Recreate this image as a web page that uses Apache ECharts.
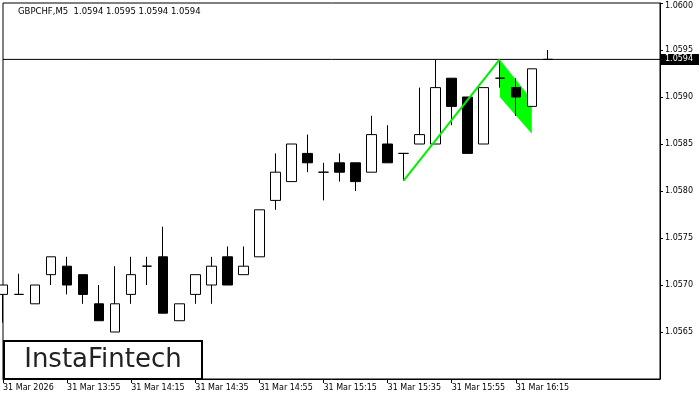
<!DOCTYPE html>
<html>
<head>
<meta charset="utf-8">
<script src="https://cdn.jsdelivr.net/npm/echarts@6/dist/echarts.min.js"></script>
<style>
  html, body { margin: 0; padding: 0; background: #fff; }
  #chart { width: 700px; height: 400px; }
</style>
</head>
<body>
<div id="chart"></div>
<script>
// GBPCHF M5, 31 Mar 2026
const times = ['13:35', '13:40', '13:45', '13:50', '13:55', '14:00', '14:05', '14:10', '14:15', '14:20',
  '14:25', '14:30', '14:35', '14:40', '14:45', '14:50', '14:55', '15:00', '15:05', '15:10',
  '15:15', '15:20', '15:25', '15:30', '15:35', '15:40', '15:45', '15:50', '15:55', '16:00',
  '16:05', '16:10', '16:15', '16:20', '16:25'];
const opens = [1.05690, 1.05690, 1.05680, 1.05711, 1.05720, 1.05711, 1.05680, 1.05650, 1.05690, 1.05720,
  1.05730, 1.05662, 1.05690, 1.05700, 1.05730, 1.05711, 1.05730, 1.05790, 1.05810, 1.05840,
  1.05820, 1.05830, 1.05830, 1.05820, 1.05850, 1.05840, 1.05850, 1.05850, 1.05920, 1.05900,
  1.05850, 1.05920, 1.05910, 1.05890, 1.05940];
const closes = [1.05700, 1.05690, 1.05700, 1.05730, 1.05700, 1.05690, 1.05662, 1.05680, 1.05711, 1.05720,
  1.05670, 1.05680, 1.05711, 1.05720, 1.05700, 1.05720, 1.05780, 1.05820, 1.05850, 1.05830,
  1.05820, 1.05820, 1.05810, 1.05860, 1.05830, 1.05840, 1.05860, 1.05910, 1.05890, 1.05840,
  1.05910, 1.05920, 1.05900, 1.05930, 1.05940];
const lows = [1.05660, 1.05690, 1.05680, 1.05700, 1.05690, 1.05680, 1.05662, 1.05650, 1.05680, 1.05700,
  1.05670, 1.05662, 1.05680, 1.05680, 1.05700, 1.05711, 1.05730, 1.05780, 1.05810, 1.05820,
  1.05790, 1.05810, 1.05800, 1.05820, 1.05830, 1.05811, 1.05850, 1.05850, 1.05870, 1.05840,
  1.05850, 1.05910, 1.05880, 1.05890, 1.05940];
const highs = [1.05700, 1.05712, 1.05700, 1.05730, 1.05730, 1.05711, 1.05700, 1.05720, 1.05730, 1.05730,
  1.05762, 1.05680, 1.05711, 1.05730, 1.05741, 1.05741, 1.05780, 1.05840, 1.05850, 1.05860,
  1.05830, 1.05840, 1.05830, 1.05880, 1.05870, 1.05840, 1.05910, 1.05940, 1.05920, 1.05900,
  1.05910, 1.05940, 1.05920, 1.05930, 1.05950];
// empty slots to the right of the last bar
const futureSlots = ['16:30', '16:35', '16:40', '16:45', '16:50', '16:55', '17:00'];
const tickLabels = {
  '13:35': '31 Mar 2026', '13:55': '31 Mar 13:55', '14:15': '31 Mar 14:15',
  '14:35': '31 Mar 14:35', '14:55': '31 Mar 14:55', '15:15': '31 Mar 15:15',
  '15:35': '31 Mar 15:35', '15:55': '31 Mar 15:55', '16:15': '31 Mar 16:15'
};
const title = 'GBPCHF,M5  1.0594 1.0595 1.0594 1.0594';
const lastPrice = 1.0594;
const yMin = 1.0560;
const yMax = 1.0600;
// bullish flag: pole and flag body
const pole = [['15:40', 1.05811], ['16:10', 1.05940]];
const flag = [['16:10', 1.05940], ['16:20', 1.05897], ['16:20', 1.05861], ['16:10', 1.05900]];

const cats = times.concat(futureSlots);
const idx = (t) => cats.indexOf(t);
const hasTick = (i) => tickLabels[cats[i]] !== undefined;
const font = 'DejaVu Sans';

const chart = echarts.init(document.getElementById('chart'));
chart.setOption({
  animation: false,
  backgroundColor: '#fff',
  grid: {
    left: 3, top: 3, right: 40, bottom: 21,
    show: true, borderColor: '#000', borderWidth: 1, backgroundColor: '#fff'
  },
  xAxis: {
    type: 'category',
    data: cats,
    boundaryGap: false,
    axisLine: { show: true, lineStyle: { color: '#000', width: 1 } },
    axisTick: { show: true, length: 4, interval: hasTick, lineStyle: { color: '#000' } },
    axisLabel: {
      interval: hasTick,
      formatter: (v) => tickLabels[v] || '',
      align: 'left',
      margin: 5,
      color: '#000',
      fontFamily: font,
      fontSize: 8
    },
    splitLine: { show: false }
  },
  yAxis: {
    type: 'value',
    position: 'right',
    min: yMin,
    max: yMax,
    interval: 0.0005,
    axisLine: { show: true, lineStyle: { color: '#000' } },
    axisTick: { show: true, length: 3, lineStyle: { color: '#000' } },
    axisLabel: {
      showMinLabel: false,
      // top label is pushed down a little so it stays inside the window
      formatter: (v) => (v >= yMax ? '{top|' + v.toFixed(4) + '}' : v.toFixed(4)),
      rich: { top: { padding: [6, 0, 0, 0], fontFamily: font, fontSize: 8, color: '#000' } },
      margin: 5,
      color: '#000',
      fontFamily: font,
      fontSize: 8
    },
    splitLine: { show: false }
  },
  graphic: [
    {
      type: 'text', left: 18, top: 7, z: 10,
      style: { text: title, fill: '#000', font: '8.5px "DejaVu Sans"' }
    },
    {
      type: 'rect', left: 3, top: 340, z: 10,
      shape: { width: 198, height: 38 },
      style: { fill: '#fff', stroke: '#000', lineWidth: 2 }
    },
    {
      type: 'text', x: 103, y: 360, z: 11,
      style: {
        text: 'InstaFintech', fill: '#222', font: '26px "DejaVu Sans"',
        align: 'center', verticalAlign: 'middle'
      }
    }
  ],
  series: [
    {
      type: 'custom',
      z: 1,
      silent: true,
      data: [0],
      renderItem: function (params, api) {
        const pts = flag.map((p) => api.coord([idx(p[0]), p[1]]));
        return {
          type: 'polygon',
          shape: { points: pts },
          style: { fill: '#00ff00', stroke: null }
        };
      }
    },
    {
      // current price line with its axis tag
      type: 'line',
      z: 1,
      silent: true,
      symbol: 'none',
      data: [[0, lastPrice], [cats.length - 1, lastPrice]],
      lineStyle: { color: '#000', width: 1 },
      endLabel: {
        show: true,
        distance: 1,
        formatter: lastPrice.toFixed(4),
        color: '#fff',
        backgroundColor: '#000',
        padding: [2, 6, 1, 4],
        fontFamily: font,
        fontSize: 8
      }
    },
    {
      type: 'candlestick',
      z: 2,
      barWidth: 10,
      data: times.map((t, i) => [opens[i], closes[i], lows[i], highs[i]]),
      itemStyle: {
        color: '#fff', color0: '#000',
        borderColor: '#000', borderColor0: '#000', borderWidth: 1
      }
    },
    {
      type: 'line',
      z: 3,
      silent: true,
      symbol: 'none',
      data: pole.map((p) => [idx(p[0]), p[1]]),
      lineStyle: { color: '#00f000', width: 2 }
    }
  ]
});
</script>
</body>
</html>
